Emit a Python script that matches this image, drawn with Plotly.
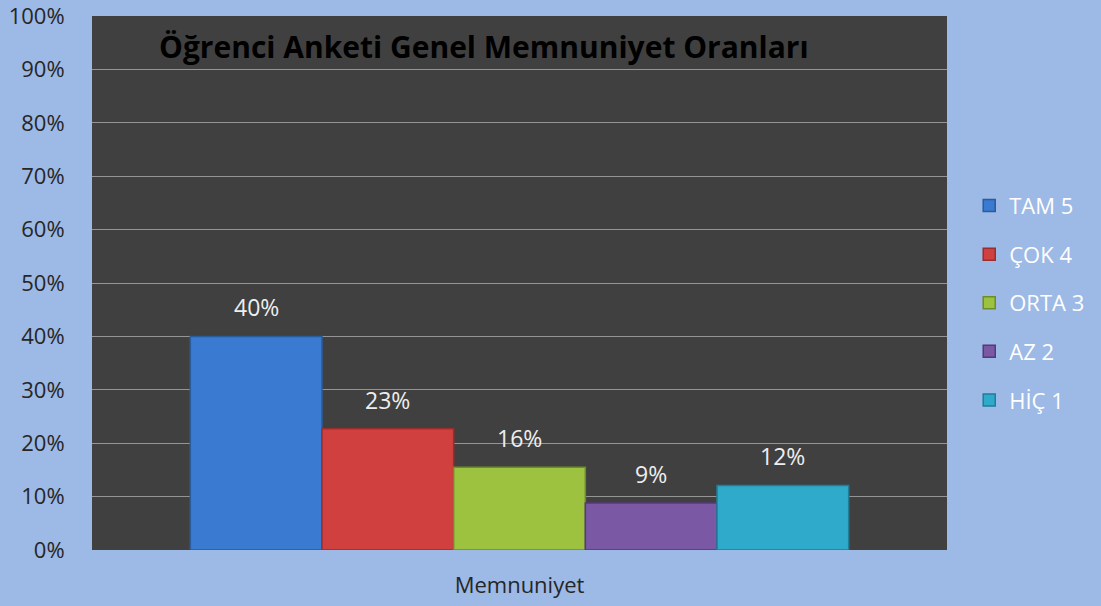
import plotly.graph_objects as go

categories = ["Memnuniyet"]
series_names = ["TAM 5", "ÇOK 4", "ORTA 3", "AZ 2", "HİÇ 1"]
series_values = [0.40, 0.227, 0.155, 0.088, 0.121]
colors = ["#3A7AD0", "#D0403F", "#9CC23F", "#7B58A4", "#2FAACB"]
edge_colors = ["#2A5C9E", "#9A2E2E", "#6E8C2A", "#55397A", "#1F7E98"]
y_ticks = [i / 10 for i in range(11)]

font_family = "Open Sans, Liberation Sans, sans-serif"

W, H = 1101, 606
ML, MR, MT, MB = 92, 154, 16, 56
BARGAP = 0.23

fig = go.Figure()
for name, val, col, edge in zip(series_names, series_values, colors, edge_colors):
    fig.add_trace(go.Bar(
        name=name,
        x=categories,
        y=[val],
        marker=dict(color=col, line=dict(color=edge, width=1.5)),
        legendgroup=name,
    ))

# value labels above each bar (placed via the category axis + group offsets)
plot_w = W - ML - MR
bar_w = plot_w * (1 - BARGAP) / len(series_names)
annotations = []
n = len(series_names)
for i, val in enumerate(series_values):
    annotations.append(dict(
        x=categories[0], y=val, xref="x", yref="y",
        text=f"{val:.0%}", showarrow=False,
        xshift=(i - (n - 1) / 2) * bar_w, yshift=29,
        xanchor="center", yanchor="middle",
        font=dict(color="#EEEEEE", size=23, family=font_family),
    ))
annotations.append(dict(
    text="<b>Öğrenci Anketi Genel Memnuniyet Oranları</b>",
    xref="paper", yref="paper", x=0.076, y=0.985,
    xanchor="left", yanchor="top", showarrow=False,
    font=dict(size=30, color="#000000", family=font_family),
))

fig.update_layout(
    width=W, height=H,
    margin=dict(l=ML, r=MR, t=MT, b=MB, autoexpand=False),
    paper_bgcolor="#9DB9E5",
    plot_bgcolor="#404040",
    barmode="group",
    bargap=BARGAP,
    bargroupgap=0,
    font=dict(family=font_family, size=22, color="#222222"),
    legend=dict(
        x=1.026, xanchor="left", y=0.463, yanchor="middle",
        font=dict(color="#FFFFFF", size=22, family=font_family),
        bgcolor="rgba(0,0,0,0)",
        tracegroupgap=17,
        itemwidth=30,
    ),
    yaxis=dict(
        range=[0, 1], tickvals=y_ticks, tickformat=".0%",
        showgrid=True, gridcolor="#959595", gridwidth=1,
        ticks="outside", ticklen=22, tickcolor="rgba(0,0,0,0)",
        tickfont=dict(size=22, color="#262626"),
        ticklabeloverflow="allow",
        zeroline=False,
    ),
    xaxis=dict(
        ticks="outside", ticklen=16, tickcolor="rgba(0,0,0,0)",
        tickfont=dict(size=22, color="#262626"),
    ),
    annotations=annotations,
)

fig.write_html("out.html")
